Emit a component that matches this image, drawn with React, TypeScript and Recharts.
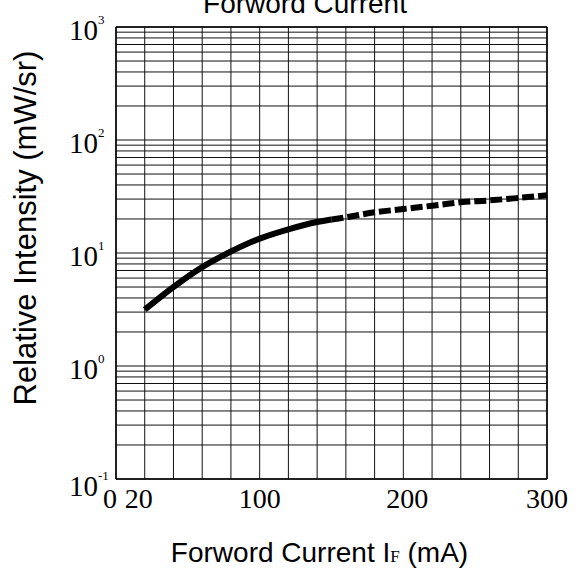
import { LineChart, Line, XAxis, YAxis, ReferenceLine, Label } from 'recharts'

// forward current (mA) vs relative intensity (mW/sr)
const currentSolid = [20, 40, 60, 80, 100, 120, 140, 150]
const intensitySolid = [3.15, 5.0, 7.5, 10.3, 13.4, 16.2, 18.8, 19.8]
const currentDashed = [150, 160, 180, 200, 220, 240, 260, 280, 300]
const intensityDashed = [19.8, 20.7, 22.9, 24.5, 26.2, 28.1, 29.2, 30.7, 32.4]

const xTicks = [0, 20, 100, 200, 300]
const yTicks = [0.1, 1, 10, 100, 1000]
const yExponents = ['-1', '0', '1', '2', '3']
const xGrid = [0, 20, 40, 60, 80, 100, 120, 140, 160, 180, 200, 220, 240, 260, 280, 300]
const decades = [0.1, 1, 10, 100]
const decadeSteps = [1, 2, 3, 4, 5, 6, 7, 8, 9]

const solidData = currentSolid.map((c, i) => ({ current: c, intensity: intensitySolid[i] }))
const dashedData = currentDashed.map((c, i) => ({ current: c, intensity: intensityDashed[i] }))
const yGrid = [...decades.flatMap((d) => decadeSteps.map((s) => +(d * s).toPrecision(3))), 1000]

const serif = 'Liberation Serif, Times New Roman, serif'
const sans = 'Liberation Sans, Arial, sans-serif'

function XTick({ x, y, payload }: any) {
  // the scan sets the two small labels a little left of their lines
  const dx = payload.value < 100 ? -6 : payload.value === 200 ? 4 : 0
  return (
    <text x={x + dx} y={y + 29} textAnchor="middle" fontFamily={serif} fontSize={28} fill="#000">
      {payload.value}
    </text>
  )
}

function YTick({ x, y, payload }: any) {
  const exp = yExponents[yTicks.indexOf(payload.value)]
  const low = payload.value < 1 ? 4 : 0
  return (
    <g>
      <text x={x - 18} y={y + 13 + low} textAnchor="end" fontFamily={serif} fontSize={29} fill="#000">
        10
      </text>
      <text x={x - 18} y={y - 3 + low} textAnchor="start" fontFamily={serif} fontSize={13} fill="#000">
        {exp}
      </text>
    </g>
  )
}

function XTitle({ viewBox }: any) {
  const cx = viewBox.x + viewBox.width / 2 - 12
  return (
    <text x={cx} y={562} textAnchor="middle" fontFamily={sans} fontSize={28} fill="#000">
      Forword Current I
      <tspan fontFamily={serif} fontSize={17}>F</tspan>
      <tspan> (mA)</tspan>
    </text>
  )
}

function YTitle({ viewBox }: any) {
  const cy = viewBox.y + viewBox.height / 2 - 25
  return (
    <text
      x={36}
      y={cy}
      transform={`rotate(-90 36 ${cy})`}
      textAnchor="middle"
      fontFamily={sans}
      fontSize={31}
      fill="#000"
    >
      Relative Intensity (mW/sr)
    </text>
  )
}

export default function App() {
  return (
    <div style={{ position: 'absolute', left: 0, top: 0, width: 584, height: 573, background: '#fff', overflow: 'hidden' }}>
      <div
        style={{
          position: 'absolute',
          top: -12,
          left: 0,
          width: 610,
          textAlign: 'center',
          fontFamily: sans,
          fontSize: 28,
          lineHeight: '32px',
          color: '#000',
        }}
      >
        Forword Current
      </div>
      <LineChart width={584} height={573} margin={{ top: 27, right: 37, left: 56, bottom: 54 }}>
        <XAxis
          type="number"
          dataKey="current"
          domain={[0, 300]}
          ticks={xTicks}
          interval={0}
          axisLine={false}
          tickLine={false}
          tickSize={0}
          tickMargin={0}
          height={40}
          tick={<XTick />}
        >
          <Label content={<XTitle />} />
        </XAxis>
        <YAxis
          type="number"
          scale="log"
          domain={[0.1, 1000]}
          allowDataOverflow
          ticks={yTicks}
          interval={0}
          axisLine={false}
          tickLine={false}
          tickSize={0}
          tickMargin={0}
          width={60}
          tick={<YTick />}
        >
          <Label content={<YTitle />} />
        </YAxis>
        {yGrid.map((v) => (
          <ReferenceLine key={'h' + v} y={v} stroke="#111" strokeWidth={1} />
        ))}
        {xGrid.map((v) => (
          <ReferenceLine key={'v' + v} x={v} stroke="#111" strokeWidth={1} />
        ))}
        <ReferenceLine y={1000} stroke="#000" strokeWidth={1.5} />
        <ReferenceLine y={0.1} stroke="#000" strokeWidth={1.5} />
        <ReferenceLine x={0} stroke="#000" strokeWidth={1.5} />
        <ReferenceLine x={300} stroke="#000" strokeWidth={1.5} />
        <Line
          data={solidData}
          dataKey="intensity"
          type="monotone"
          stroke="#000"
          strokeWidth={6}
          dot={false}
          isAnimationActive={false}
        />
        <Line
          data={dashedData}
          dataKey="intensity"
          type="monotone"
          stroke="#000"
          strokeWidth={6}
          strokeDasharray="12 4"
          dot={false}
          isAnimationActive={false}
        />
      </LineChart>
    </div>
  )
}
